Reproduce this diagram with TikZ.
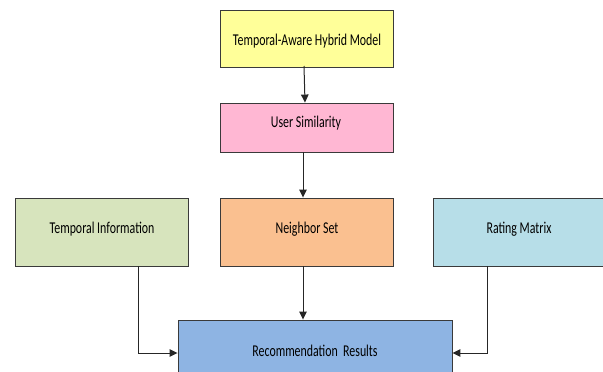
\documentclass[tikz,border=0pt]{standalone}
\usepackage{fontspec}
\setmainfont{Carlito}[FakeStretch=0.72]
\usetikzlibrary{arrows.meta}
\definecolor{cYellow}{HTML}{FFFF99}
\definecolor{cPink}{HTML}{FFB7D3}
\definecolor{cGreen}{HTML}{D7E4BD}
\definecolor{cOrange}{HTML}{FAC090}
\definecolor{cAqua}{HTML}{B7DEE8}
\definecolor{cBlue}{HTML}{8EB4E3}
\definecolor{cEdge}{HTML}{3A3A3A}
\tikzset{
  blk/.style={draw=cEdge, line width=0.9pt, rectangle, inner sep=0pt},
  lbl/.style={anchor=base, inner sep=0pt, font=\fontsize{16.5}{18}\selectfont, text=black},
  link/.style={draw=black!85, line width=1pt, -{Triangle[length=8pt,width=7.5pt]}},
}
\begin{document}
\begin{tikzpicture}[x=1pt,y=-1pt]
\useasboundingbox (0,0) rectangle (603,372);
\clip (0,0) rectangle (603,372);
% boxes (centre, size)
\node[blk, fill=cYellow, minimum width=173pt, minimum height=57pt] (model) at (306.5,38.5) {};
\node[blk, fill=cPink,   minimum width=173pt, minimum height=49pt] (sim)   at (306.5,127.5) {};
\node[blk, fill=cGreen,  minimum width=173pt, minimum height=68pt] (temp)  at (101.5,232) {};
\node[blk, fill=cOrange, minimum width=173pt, minimum height=68pt] (nbr)   at (306.5,232) {};
\node[blk, fill=cAqua,   minimum width=173pt, minimum height=68pt] (rate)  at (519.5,232) {};
\node[blk, fill=cBlue,   minimum width=274pt, minimum height=80pt] (rec)   at (315,360) {};
% labels
\node[lbl] (tmodel) at (307,45.5)  {Temporal-Aware Hybrid Model};
\node[lbl] (tsim)   at (306,127.5) {User Similarity};
\node[lbl] (ttemp)  at (102,233.5) {Temporal Information};
\node[lbl] (tnbr)   at (307,233.5) {Neighbor Set};
\node[lbl] (trate)  at (519,233.5) {Rating Matrix};
\node[lbl] (trec)   at (315,356)   {Recommendation\ \ Results};
% connectors
\coordinate (bendL) at (138,353);
\coordinate (bendR) at (487,353);
\draw[link] (304,66) -- (sim.north -| 305,0);
\draw[link] (sim.south -| 303,0) -- (nbr.north -| 303,0);
\draw[link] (nbr.south -| 303,0) -- (rec.north -| 303,0);
\draw[link] (temp.south -| bendL) -- (bendL) -- (bendL -| rec.west);
\draw[link] (rate.south -| bendR) -- (bendR) -- (bendR -| rec.east);
\end{tikzpicture}
\end{document}
